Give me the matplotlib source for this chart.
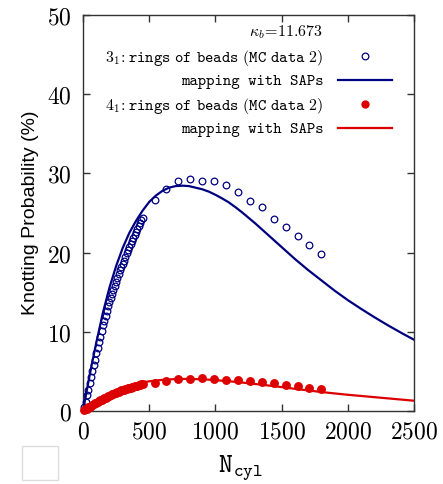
import matplotlib
matplotlib.use("Agg")
import matplotlib.pyplot as plt
from matplotlib.lines import Line2D
from matplotlib.patches import Rectangle
from matplotlib.ticker import FuncFormatter

plt.rcParams['mathtext.fontset'] = 'cm'

# MC data: dense part (N = 10..450) and sparse part
n_dense = [10, 20, 30, 40, 50, 60, 70, 80, 90, 100, 110, 120, 130, 140, 150,
           160, 170, 180, 190, 200, 210, 220, 230, 240, 250, 260, 270, 280, 290, 300,
           310, 320, 330, 340, 350, 360, 370, 380, 390, 400, 410, 420, 430, 440, 450]
n_sparse = [540, 630, 720, 810, 900, 990, 1080, 1170, 1260, 1350, 1440, 1530, 1620, 1710, 1800]

p31_dense = [0.5, 1.2, 2.0, 2.7, 3.5, 4.3, 5.0, 5.8, 6.5, 7.3, 8.0, 8.7, 9.4, 10.1, 10.8,
             11.4, 12.0, 12.6, 13.2, 13.8, 14.3, 14.8, 15.3, 15.8, 16.3, 16.8, 17.3, 17.8, 18.2, 18.6,
             19.0, 19.5, 19.9, 20.3, 20.7, 21.1, 21.5, 21.8, 22.2, 22.6, 23.0, 23.3, 23.7, 24.1, 24.4]
p31_sparse = [26.6, 28.0, 29.0, 29.3, 29.1, 29.0, 28.5, 27.7, 26.5, 25.7, 24.3, 23.2, 22.1, 21.0, 19.8]

p41_dense = [0.1, 0.2, 0.3, 0.45, 0.55, 0.65, 0.75, 0.85, 0.95, 1.05, 1.15, 1.25, 1.35, 1.45, 1.5,
             1.6, 1.7, 1.8, 1.85, 1.95, 2.0, 2.1, 2.15, 2.25, 2.3, 2.4, 2.45, 2.5, 2.6, 2.65,
             2.7, 2.75, 2.8, 2.85, 2.9, 2.95, 3.0, 3.05, 3.1, 3.15, 3.2, 3.25, 3.3, 3.35, 3.4]
p41_sparse = [3.49, 3.83, 4.04, 4.04, 4.12, 4.04, 3.96, 3.96, 3.83, 3.70, 3.49, 3.24, 3.11, 2.95, 2.74]

# mapping with SAPs (curves)
n_map = [0, 25, 50, 75, 100, 150, 200, 250, 300, 350, 400, 450, 500, 550, 600, 650, 700, 750, 800,
         850, 900, 950, 1000, 1050, 1100, 1150, 1200, 1250, 1300, 1350, 1400, 1450, 1500, 1600,
         1700, 1800, 1900, 2000, 2100, 2200, 2300, 2400, 2500]
map31 = [0, 2.3, 4.5, 6.6, 8.6, 12.4, 15.6, 18.3, 20.6, 22.5, 24.0, 25.3, 26.4, 27.2, 27.8,
         28.2, 28.4, 28.45, 28.4, 28.2, 28.0, 27.7, 27.3, 26.85, 26.35, 25.75, 25.1, 24.4,
         23.7, 22.95, 22.2, 21.45, 20.7, 19.2, 17.8, 16.5, 15.2, 14.0, 12.9, 11.85, 10.85,
         9.9, 9.0]
map41 = [0, 0.3, 0.6, 0.85, 1.1, 1.6, 2.1, 2.5, 2.8, 3.15, 3.4, 3.6, 3.75, 3.85, 3.93, 3.99,
         4.03, 4.05, 4.05, 4.03, 4.0, 3.96, 3.9, 3.83, 3.76, 3.68, 3.6, 3.5, 3.41, 3.32, 3.22,
         3.12, 3.02, 2.8, 2.6, 2.4, 2.22, 2.05, 1.9, 1.75, 1.6, 1.45, 1.3]

blue = '#000080'
red = '#dd0000'

fig = plt.figure(figsize=(4.43, 4.84), dpi=100)
ax = fig.add_axes([0.1874, 0.1508, 0.7472, 0.8182])

ax.plot(n_map, map31, color=blue, lw=1.6, zorder=2)
ax.plot(n_dense + n_sparse, p31_dense + p31_sparse, 'o', color=blue, mfc='none',
        ms=4.8, mew=0.9, zorder=3, clip_on=False)
ax.plot(n_dense + n_sparse, p41_dense + p41_sparse, 'o', color=red, ms=6.4,
        mew=0, zorder=3, clip_on=False)
ax.plot(n_map, map41, color=red, lw=1.6, zorder=4)

ax.set_xlim(0, 2500)
ax.set_ylim(0, 50)
ax.set_xticks([0, 500, 1000, 1500, 2000, 2500])
ax.set_yticks([0, 10, 20, 30, 40, 50])
fmt = FuncFormatter(lambda v, p: f"${v:g}$")
ax.xaxis.set_major_formatter(fmt)
ax.yaxis.set_major_formatter(fmt)
ax.tick_params(direction='in', length=5, width=1, top=True, right=True,
               labelsize=17, color='#333333')
ax.tick_params(axis='x', pad=6)
ax.tick_params(axis='y', pad=8)
for s in ax.spines.values():
    s.set_color('#333333')
    s.set_linewidth(1)

ax.set_ylabel('Knotting Probability (%)', family='Liberation Sans', fontsize=14, labelpad=6)
ax.set_xlabel(r'$\mathtt{N}_{\mathtt{cyl}}$', fontsize=19)
ax.xaxis.set_label_coords(0.475, -0.108)

handles = [
    Line2D([], [], linestyle='none'),
    Line2D([], [], linestyle='none', marker='o', color=blue, mfc='none', ms=4.8, mew=0.9),
    Line2D([], [], color=blue, lw=1.6),
    Line2D([], [], linestyle='none', marker='o', color=red, ms=6, mew=0),
    Line2D([], [], color=red, lw=1.6),
]
labels = [
    r'$\kappa_b\!=\!\mathtt{11.673}$',
    r'$3_1\!:\mathtt{rings\ of\ beads}\ (\mathtt{MC\ data\ 2})$',
    'mapping with SAPs',
    r'$4_1\!:\mathtt{rings\ of\ beads}\ (\mathtt{MC\ data\ 2})$',
    'mapping with SAPs',
]
leg = ax.legend(handles, labels, loc='upper right', bbox_to_anchor=(0.9335, 0.978),
                frameon=False, markerfirst=False, borderpad=0, borderaxespad=0,
                fontsize=11.5, handlelength=3.4, handletextpad=0.9, labelspacing=0.4)
for i in (2, 4):
    leg.get_texts()[i].set_fontfamily('cmtt10')

fig.add_artist(Rectangle((0.0497, 0.0083), 0.0813, 0.0702, transform=fig.transFigure,
                         fill=False, edgecolor='#dddddd', lw=1))

fig.savefig('out.png', dpi=100)
